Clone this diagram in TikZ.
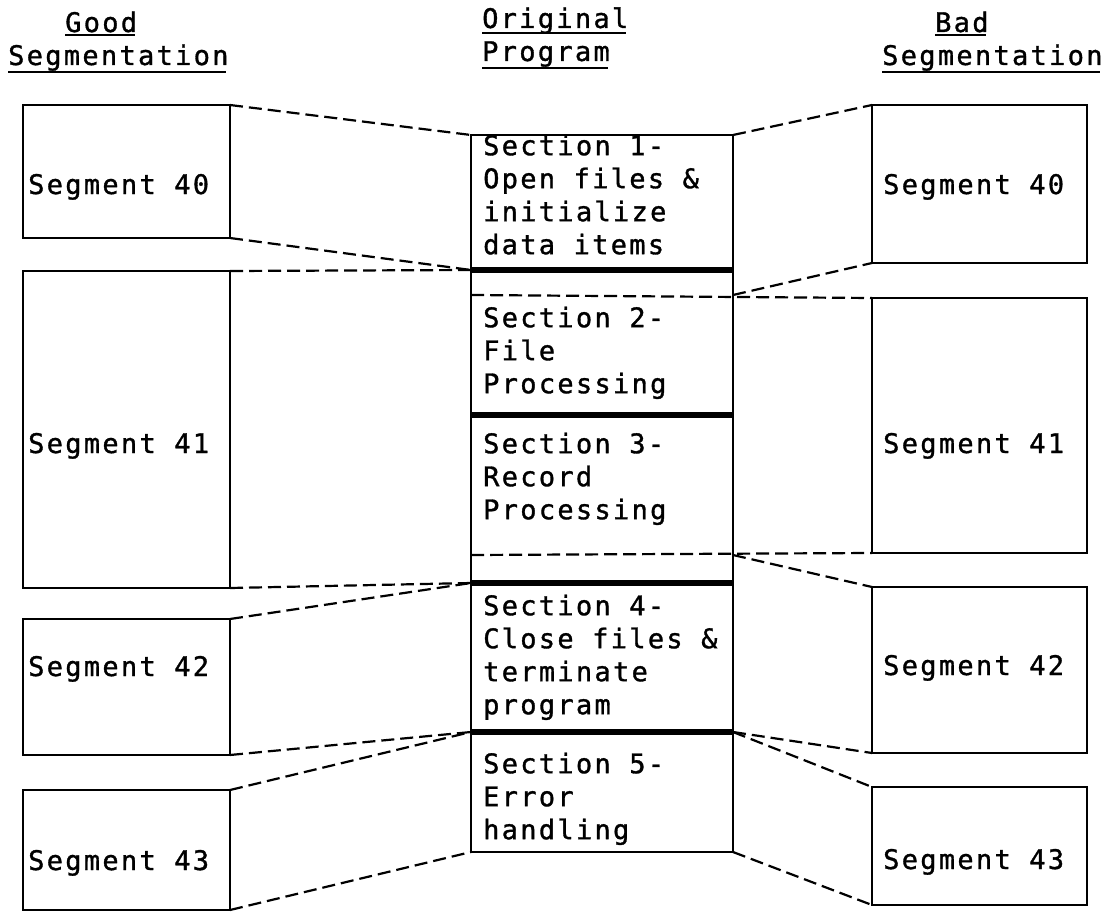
\documentclass[tikz,border=0pt]{standalone}
\usepackage{fontspec}
\newfontfamily\typew[LetterSpace=8.5,FakeBold=1.2]{DejaVu Sans Mono}
\begin{document}
\begin{tikzpicture}[x=1pt,y=-1pt,
  box/.style={draw, line width=2.8pt, inner sep=0pt, outer sep=0pt, anchor=north west},
  segline/.style={line width=2.2pt, dash pattern=on 13pt off 6pt},
  divider/.style={line width=6pt},
  uline/.style={line width=2.2pt},
  lbl/.style={font=\typew\fontsize{27}{33}\selectfont, inner sep=0pt, anchor=base west},
  txt/.style={font=\typew\fontsize{27}{33}\selectfont, inner sep=0pt, anchor=north west, align=left}
]
\useasboundingbox (0,0) rectangle (1115,912);

% column headings
\node[lbl] (hg1) at (65,32) {Good};
\node[lbl] (hg2) at (8,65) {Segmentation};
\node[lbl] (ho1) at (482,28) {Original};
\node[lbl] (ho2) at (482,61) {Program};
\node[lbl] (hb1) at (935,32) {Bad};
\node[lbl] (hb2) at (882,65) {Segmentation};
\draw[uline] ([yshift=-3pt]hg1.base west) -- ([yshift=-3pt,xshift=-2.3pt]hg1.base east);
\draw[uline] ([yshift=-7pt]hg2.base west) -- ([yshift=-7pt,xshift=-2.3pt]hg2.base east);
\draw[uline] ([yshift=-5pt]ho1.base west) -- ([yshift=-5pt,xshift=-2.3pt]ho1.base east);
\draw[uline] ([yshift=-7pt]ho2.base west) -- ([yshift=-7pt,xshift=-2.3pt]ho2.base east);
\draw[uline] ([yshift=-3pt]hb1.base west) -- ([yshift=-3pt,xshift=-2.3pt]hb1.base east);
\draw[uline] ([yshift=-7pt]hb2.base west) -- ([yshift=-7pt,xshift=-2.3pt]hb2.base east);

% good segmentation
\node[box, minimum width=207pt, minimum height=133pt] (g40) at (23,105) {};
\node[box, minimum width=207pt, minimum height=317pt] (g41) at (23,271) {};
\node[box, minimum width=207pt, minimum height=136pt] (g42) at (23,619) {};
\node[box, minimum width=207pt, minimum height=120pt] (g43) at (23,790) {};
\node[lbl] (lg40) at (28,194) {Segment 40};
\node[lbl] (lg41) at (28,453) {Segment 41};
\node[lbl] (lg42) at (28,676) {Segment 42};
\node[lbl] (lg43) at (28,870) {Segment 43};

% bad segmentation
\node[box, minimum width=215pt, minimum height=158pt] (b40) at (872,105) {};
\node[box, minimum width=215pt, minimum height=255pt] (b41) at (872,298) {};
\node[box, minimum width=215pt, minimum height=166pt] (b42) at (872,587) {};
\node[box, minimum width=215pt, minimum height=118pt] (b43) at (872,787) {};
\node[lbl] (lb40) at (883,194) {Segment 40};
\node[lbl] (lb41) at (883,453) {Segment 41};
\node[lbl] (lb42) at (883,675) {Segment 42};
\node[lbl] (lb43) at (883,869) {Segment 43};

% original program sections
\node[box, minimum width=262pt, minimum height=135pt] (sec1) at (471,135) {};
\node[box, minimum width=262pt, minimum height=145pt] (sec2) at (471,270) {};
\node[box, minimum width=262pt, minimum height=168pt] (sec3) at (471,415) {};
\node[box, minimum width=262pt, minimum height=149pt] (sec4) at (471,583) {};
\node[box, minimum width=262pt, minimum height=120pt] (sec5) at (471,732) {};
\draw[divider] (sec1.south west) -- (sec1.south east);
\draw[divider] (sec2.south west) -- (sec2.south east);
\draw[divider] (sec3.south west) -- (sec3.south east);
\draw[divider] (sec4.south west) -- (sec4.south east);

\node[txt] (t1) at (483,133) {\rule{0pt}{22pt}Section 1-\\Open files \&\\initialize\\data items};
\node[txt] (t2) at (483,305) {\rule{0pt}{22pt}Section 2-\\File\\Processing};
\node[txt] (t3) at (483,431) {\rule{0pt}{22pt}Section 3-\\Record\\Processing};
\node[txt] (t4) at (483,593) {\rule{0pt}{22pt}Section 4-\\Close files \&\\terminate\\program};
\node[txt] (t5) at (483,751) {\rule{0pt}{22pt}Section 5-\\Error\\handling};

% cut points of the bad segmentation inside sections 2 and 3
\coordinate (c1l) at (471,295);
\coordinate (c1r) at (733,295);
\coordinate (c2l) at (471,555);
\coordinate (c2r) at (733,555);

% good segmentation boundaries
\draw[segline] (g40.north east) -- (sec1.north west);
\draw[segline] (g40.south east) -- (sec1.south west);
\draw[segline] (g41.north east) -- (sec1.south west);
\draw[segline] (g41.south east) -- (sec3.south west);
\draw[segline] (g42.north east) -- (sec3.south west);
\draw[segline] (g42.south east) -- (sec4.south west);
\draw[segline] (g43.north east) -- (sec4.south west);
\draw[segline] (g43.south east) -- (sec5.south west);

% bad segmentation boundaries
\draw[segline] (sec1.north east) -- (b40.north west);
\draw[segline] (c1r) -- (b40.south west);
\draw[segline] (c1l) -- (b41.north west);
\draw[segline] (c2l) -- (b41.south west);
\draw[segline] (c2r) -- (b42.north west);
\draw[segline] (sec4.south east) -- (b42.south west);
\draw[segline] (sec4.south east) -- (b43.north west);
\draw[segline] (sec5.south east) -- (b43.south west);
\end{tikzpicture}
\end{document}
